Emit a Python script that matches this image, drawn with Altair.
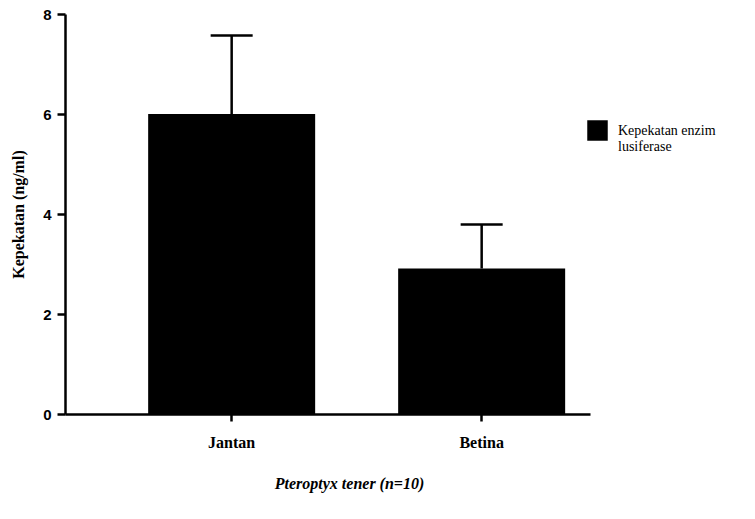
import altair as alt
import pandas as pd

categories = ["Jantan", "Betina"]
means = [6.0, 2.91]
upper = [7.57, 3.79]
series = ["Kepekatan enzim lusiferase", "Kepekatan enzim lusiferase"]

df = pd.DataFrame({"kelamin": categories, "mean": means, "upper": upper, "series": series})

xscale = alt.Scale(domain=categories, paddingInner=0.332, paddingOuter=0.216, align=0.77)
yscale = alt.Scale(domain=[0, 8], nice=False)

x_enc = alt.X(
    "kelamin:N",
    scale=xscale,
    sort=categories,
    axis=alt.Axis(
        title="Pteroptyx tener (n=10)",
        labelAngle=0,
        labelFont="Liberation Serif",
        labelFontWeight="bold",
        labelFontSize=16,
        labelColor="black",
        labelPadding=13,
        tickColor="black",
        tickWidth=2.5,
        tickSize=7,
        domainColor="black",
        domainWidth=2.5,
        titleFont="Liberation Serif",
        titleFontStyle="italic",
        titleFontWeight="bold",
        titleFontSize=16,
        titleColor="black",
        titleX=284,
        titleY=69,
        titleBaseline="middle",
        titleAlign="center",
    ),
)

y_axis = alt.Axis(
    title="Kepekatan (ng/ml)",
    values=[0, 2, 4, 6, 8],
    grid=False,
    labelFont="Liberation Sans",
    labelFontWeight="bold",
    labelFontSize=15,
    labelColor="black",
    labelPadding=6,
    tickColor="black",
    tickWidth=2.5,
    tickSize=8,
    domainColor="black",
    domainWidth=2.5,
    titleFont="Liberation Serif",
    titleFontWeight="bold",
    titleFontSize=16,
    titleColor="black",
    titleX=-47,
    titleY=200,
    titleAngle=-90,
    titleBaseline="middle",
    titleAlign="center",
)

bars = alt.Chart(df).mark_bar(opacity=1).encode(
    x=x_enc,
    y=alt.Y("mean:Q", scale=yscale, axis=y_axis),
    color=alt.Color(
        "series:N",
        scale=alt.Scale(range=["black"]),
        legend=alt.Legend(
            title=None,
            orient="none",
            legendX=522,
            legendY=106,
            symbolType="square",
            symbolSize=420,
            symbolStrokeWidth=0,
            symbolOpacity=1,
            labelFont="Liberation Serif",
            labelFontSize=14,
            labelColor="black",
            labelOffset=10,
            labelLimit=300,
            labelExpr="['Kepekatan enzim', 'lusiferase']",
        ),
    ),
)

rule = alt.Chart(df).mark_rule(color="black", strokeWidth=2.5, opacity=1).encode(
    x=alt.X("kelamin:N", scale=xscale, sort=categories),
    y=alt.Y("mean:Q", scale=yscale),
    y2="upper:Q",
)

cap = alt.Chart(df).mark_tick(color="black", thickness=2.5, size=42, orient="horizontal", opacity=1).encode(
    x=alt.X("kelamin:N", scale=xscale, sort=categories),
    y=alt.Y("upper:Q", scale=yscale),
)

chart = (
    alt.layer(bars, rule, cap)
    .properties(
        width=525,
        height=400,
        autosize=alt.AutoSizeParams(type="none"),
        padding={"left": 57, "top": 6, "right": 157, "bottom": 97},
        background="white",
    )
    .configure_view(stroke=None, strokeWidth=0)
    .configure_axis(grid=False)
)

chart.save("out.html", embed_options={"renderer": "svg", "actions": False})
